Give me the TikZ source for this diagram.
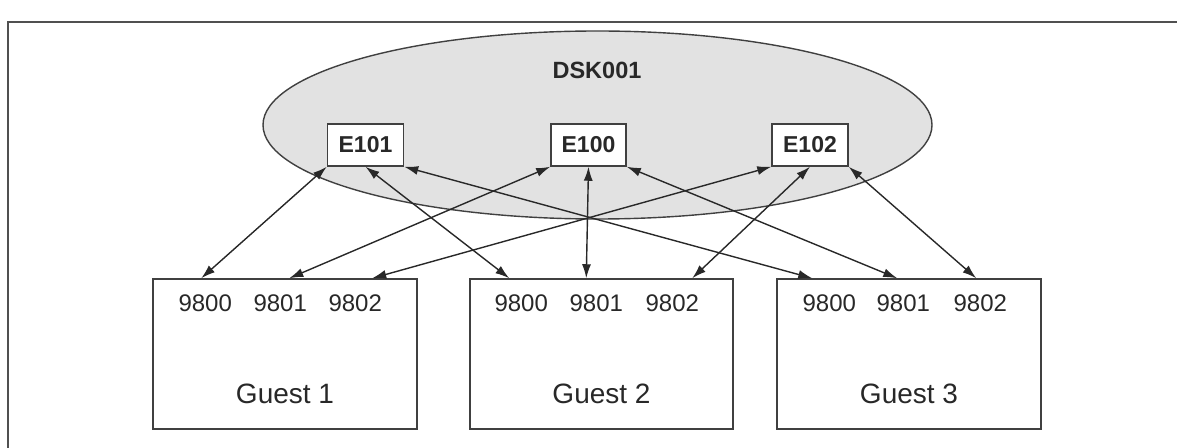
\documentclass[tikz,border=0pt]{standalone}
\usepackage{fontspec}
\setmainfont{Liberation Sans}
\usepackage{xcolor}
\usetikzlibrary{arrows.meta,positioning,shapes.geometric}
\definecolor{DiskGray}{HTML}{E2E2E2}
\definecolor{TextGray}{HTML}{282828}
\definecolor{FrameGray}{HTML}{505050}

\begin{document}
\begin{tikzpicture}[
x=1pt,y=1pt,
Disk/.style={ellipse,draw=darkgray,fill=DiskGray,line width=1.4pt,minimum width=669pt,minimum height=188pt,inner sep=0pt},
EBox/.style={draw=darkgray,fill=white,line width=1.5pt,minimum width=76pt,minimum height=42pt,inner sep=0pt,text=TextGray,font=\fontsize{23}{26}\selectfont\bfseries},
GuestBox/.style={draw=darkgray,line width=1.5pt,minimum width=264pt,minimum height=150pt,inner sep=0pt},
Port/.style={anchor=base,inner sep=0pt,text=TextGray,font=\fontsize{24}{28}\selectfont},
GuestLabel/.style={anchor=base,inner sep=0pt,text=TextGray,font=\fontsize{28}{32}\selectfont},
Link/.style={{Latex[length=14pt,width=9pt]}-{Latex[length=14pt,width=9pt]},line width=1.4pt,draw=TextGray}
]
\useasboundingbox (0,0) rectangle (1177,447);

% outer frame
\draw[FrameGray,line width=2pt] (8,-10) -- (8,425) -- (1190,425);

% the disk with its three devices
\node[Disk] (dsk) at (597.5,322) {};
\node[anchor=base,text=TextGray,font=\fontsize{23.5}{26}\selectfont\bfseries] (dsklabel) at (597,368) {DSK001};

\node[EBox] (e101) at (365.5,302) {E101};
\node[EBox,minimum width=75pt] (e100) at (588.5,302) {E100};
\node[EBox] (e102) at (810,302) {E102};

% guests
\node[GuestBox] (g1) at (285,93) {};
\node[GuestBox,minimum width=263pt] (g2) at (601.5,93) {};
\node[GuestBox] (g3) at (909,93) {};

\node[Port] (g1p0) at ([shift={(53,-33)}]g1.north west) {9800};
\node[Port] (g1p1) at ([xshift=75]g1p0.base) {9801};
\node[Port] (g1p2) at ([xshift=75]g1p1.base) {9802};
\node[Port] (g2p0) at ([shift={(52,-33)}]g2.north west) {9800};
\node[Port] (g2p1) at ([xshift=75]g2p0.base) {9801};
\node[Port] (g2p2) at ([xshift=76]g2p1.base) {9802};
\node[Port] (g3p0) at ([shift={(53,-33)}]g3.north west) {9800};
\node[Port] (g3p1) at ([xshift=74]g3p0.base) {9801};
\node[Port] (g3p2) at ([xshift=77]g3p1.base) {9802};

\node[GuestLabel] (g1label) at ([yshift=26]g1.south) {Guest 1};
\node[GuestLabel] (g2label) at ([yshift=26]g2.south) {Guest 2};
\node[GuestLabel] (g3label) at ([yshift=26]g3.south) {Guest 3};

% links between devices and ports
\draw[Link] (e101.south west) -- ([xshift=49]g1.north west);
\draw[Link] (e101.south) -- ([xshift=40]g2.north west);
\draw[Link] (e101.south east) -- ([xshift=36]g3.north west);

\draw[Link] (e100.south west) -- ([xshift=137]g1.north west);
\draw[Link] (e100.south) -- ([xshift=117]g2.north west);
\draw[Link] (e100.south east) -- ([xshift=121]g3.north west);

\draw[Link] (e102.south west) -- ([xshift=220]g1.north west);
\draw[Link] (e102.south) -- ([xshift=223]g2.north west);
\draw[Link] (e102.south east) -- ([xshift=200]g3.north west);

\end{tikzpicture}
\end{document}
